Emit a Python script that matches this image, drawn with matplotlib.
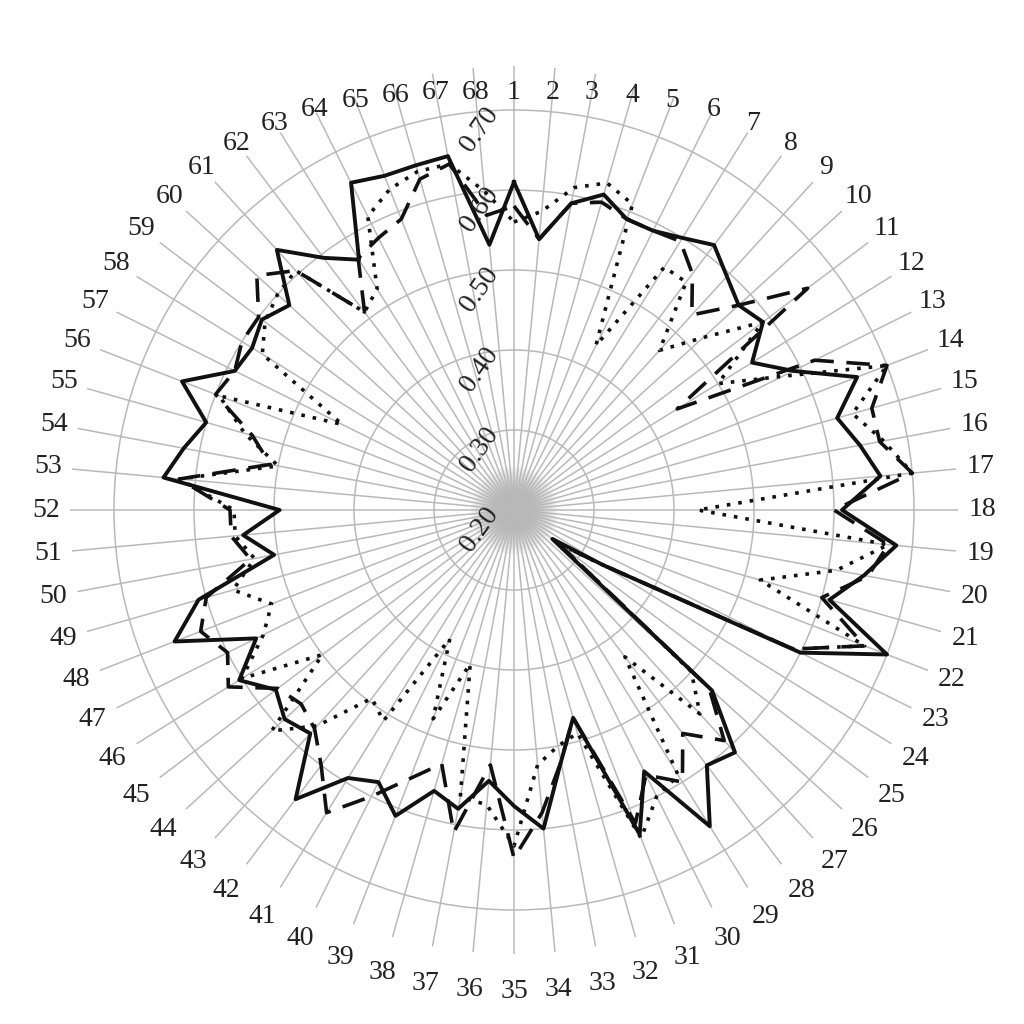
import matplotlib
matplotlib.use('Agg')
import matplotlib.pyplot as plt
import numpy as np

categories = [str(i) for i in range(1, 69)]

solid = [0.61, 0.54, 0.59, 0.61, 0.59, 0.59, 0.60, 0.615, 0.595, 0.58,
         0.59, 0.55, 0.59, 0.66, 0.62, 0.64, 0.66, 0.61, 0.68, 0.645,
         0.61, 0.70, 0.60, 0.33, 0.26, 0.535, 0.61, 0.60, 0.665, 0.565,
         0.635, 0.47, 0.52, 0.60, 0.57, 0.54, 0.58, 0.565, 0.61, 0.58,
         0.594, 0.653, 0.578, 0.588, 0.573, 0.604, 0.56, 0.655, 0.61, 0.505,
         0.54, 0.493, 0.64, 0.62, 0.60, 0.645, 0.59, 0.585, 0.595, 0.58,
         0.64, 0.595, 0.568, 0.657, 0.648, 0.648, 0.65, 0.533]

dashed = [0.58, 0.54, 0.59, 0.60, 0.59, 0.59, 0.595, 0.57, 0.53, 0.58,
          0.66, 0.44, 0.62, 0.70, 0.665, 0.665, 0.70, 0.60, 0.67, 0.65,
          0.60, 0.67, 0.59, 0.33, 0.27, 0.53, 0.59, 0.55, 0.60, 0.57,
          0.62, 0.47, 0.52, 0.58, 0.635, 0.52, 0.61, 0.53, 0.56, 0.60,
          0.645, 0.60, 0.57, 0.56, 0.57, 0.62, 0.60, 0.62, 0.60, 0.535,
          0.555, 0.555, 0.62, 0.51, 0.54, 0.60, 0.59, 0.60, 0.60, 0.635,
          0.605, 0.51, 0.57, 0.58, 0.59, 0.63, 0.64, 0.57]

dotted = [0.56, 0.575, 0.61, 0.625, 0.61, 0.43, 0.557, 0.557, 0.47, 0.52,
          0.59, 0.50, 0.575, 0.70, 0.64, 0.67, 0.70, 0.43, 0.67, 0.61,
          0.52, 0.67, 0.59, 0.33, 0.27, 0.50, 0.545, 0.43, 0.59, 0.60,
          0.64, 0.49, 0.50, 0.52, 0.62, 0.57, 0.565, 0.40, 0.48, 0.38,
          0.51, 0.495, 0.565, 0.61, 0.50, 0.60, 0.55, 0.525, 0.565, 0.53,
          0.55, 0.55, 0.62, 0.50, 0.55, 0.595, 0.44, 0.57, 0.59, 0.60,
          0.605, 0.51, 0.525, 0.61, 0.63, 0.64, 0.64, 0.60]

rings = [0.20, 0.30, 0.40, 0.50, 0.60, 0.70]

plt.rcParams['font.family'] = ['Liberation Serif', 'DejaVu Serif']

n = len(categories)
theta = np.arange(n) * 2 * np.pi / n
th = np.append(theta, theta[0])

fig = plt.figure(figsize=(10.24, 10.24), dpi=100)
R = 444
ax = fig.add_axes([(514 - R) / 1024, (1024 - 510 - R) / 1024, 2 * R / 1024, 2 * R / 1024],
                  projection='polar')
ax.set_theta_zero_location('N')
ax.set_theta_direction(-1)
ax.set_ylim(0.2, 0.2 + R * 0.00125)

grid_col = '#b9b9b9'
ax.set_xticks(theta)
ax.set_xticklabels([])
ax.set_yticks(rings[1:])
ax.set_yticklabels([])
ax.grid(True, color=grid_col, lw=1.1)
ax.spines['polar'].set_visible(False)
ax.tick_params(length=0)

# soft grey haze where the spokes meet
ring_t = np.linspace(0, 2 * np.pi, 120)
for rr in np.linspace(0.255, 0.204, 14):
    ax.fill_between(ring_t, 0.2, rr, color='#707070', alpha=0.07, lw=0, zorder=1)

ax.plot(th, np.append(dotted, dotted[0]), color='#111', lw=2.6, dashes=[1.0, 2.2], zorder=3)
ax.plot(th, np.append(dashed, dashed[0]), color='#111', lw=2.6, dashes=[6.5, 3.5], zorder=4)
ax.plot(th, np.append(solid, solid[0]), color='#111', lw=2.8, zorder=5)

# category labels around the chart
for t, lab in zip(theta, categories):
    c = np.cos(t)
    rpx = 468 - 50 * max(0, c) ** 8 + 14 * max(0, -c) ** 2
    ax.text(t, 0.2 + rpx * 0.00125, lab, ha='center', va='center',
            fontsize=20, color='#222', clip_on=False)

# radial value labels
for v in rings:
    ax.annotate(f'{v:.2f}', xy=(0, v), xytext=(-25, -14), textcoords='offset points',
                ha='center', va='center', rotation=55, fontsize=20, color='#222',
                annotation_clip=False, zorder=6)

plt.savefig('out.png', dpi=100)
